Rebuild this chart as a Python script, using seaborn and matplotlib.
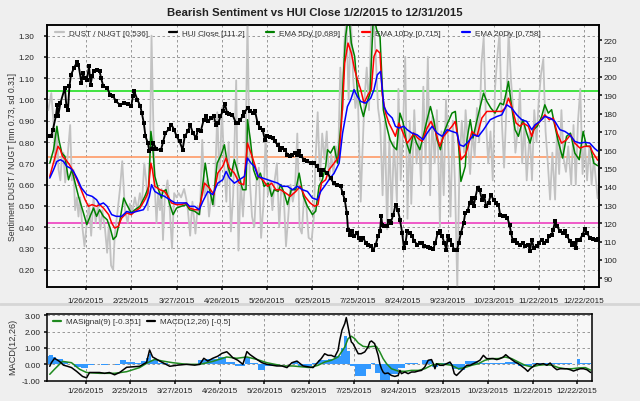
import numpy as np
import pandas as pd
import matplotlib
matplotlib.use("Agg")
import matplotlib.pyplot as plt
from matplotlib.lines import Line2D
import seaborn as sns

# ---------------- data (day of year 2015, value) ----------------
ratio_mean, ratio_sd = 0.73, 0.31

dust_nugt = [(1,0.95),(3,1.03),(4.5,0.89),(5.6,0.70),(6.7,0.87),(7.8,0.67),(9,0.62),(10,0.73),(11,0.75),(12.2,0.61),(13.3,0.69),(15.5,0.88),(16.6,0.62),(17.7,0.67),(18.8,0.48),(20,0.54),(21,0.45),(22,0.54),(23.6,0.40),(25,0.31),(26.5,0.42),(28,0.51),(29.4,0.36),(31,0.54),(32.4,0.42),(34,0.51),(35.5,0.39),(36.8,0.48),(38.6,0.39),(40,0.28),(41.2,0.42),(42.6,0.22),(44,0.20),(45,0.36),(47,0.48),(48.5,0.58),(50,0.71),(51.8,0.48),(53.6,0.42),(55,0.51),(56.6,0.47),(58.4,0.54),(60,0.48),(61.7,0.56),(63,0.50),(64.6,0.70),(66,0.61),(67,0.48),(68.3,0.73),(69.4,1.30),(70.5,0.92),(71.6,0.58),(72.7,0.42),(73.8,0.56),(75,0.48),(76,0.58),(77,0.34),(78.2,0.54),(80,0.62),(81.5,0.48),(83,0.30),(84.4,0.56),(86,0.54),(87.4,0.56),(89,0.54),(91,0.58),(92.5,0.53),
 (93.5,0.48),(95,0.36),(96.5,0.52),(98.5,0.37),(100,0.50),(101.5,0.46),(103,0.81),(104.5,0.55),(106,0.62),(107.5,0.45),(109,0.55),(111,0.50),(113,0.94),(114.5,0.60),(116,0.96),(117.5,0.70),(119,0.52),(120.5,0.80),(122,0.38),(123.5,0.55),(125.5,1.09),(127,0.29),(128.5,0.62),(130,0.45),(131.5,0.65),(133,1.38),(134.5,0.62),(136,0.45),(137.5,0.40),(139,0.62),(140.5,0.68),(142,0.35),(143.5,0.50),(145,0.83),(146.5,0.55),(148,0.62),(149.5,0.48),(151,0.62),(152.5,0.70),(154,0.40),(155.5,0.60),(157,0.55),(158.5,0.31),(160,0.45),(161.5,0.60),(163,0.52),(164.5,0.58),(166,0.84),(167.5,0.40),(169,0.37),(170.5,0.55),(172,0.50),(173.5,0.35),(175.5,0.34),(177,0.45),(178,0.70),(179.5,0.94),(181,0.62),(182.5,0.84),
 (184,0.72),(185.5,0.85),(187,0.62),(188.5,0.74),(190,0.65),(191.5,0.78),(193,0.70),(194.5,1.15),(196,0.95),(197,1.25),(198.5,1.38),(200,1.00),(201.5,1.38),(203,1.10),(204.5,0.96),(206,1.05),(208,0.52),(209,0.72),(210.5,1.00),(212,1.15),(213.5,0.95),(215,1.38),(216.5,1.38),(218,1.20),(219.5,0.96),(221,0.88),(222.5,0.55),(224,0.90),(225.5,0.39),(227,0.82),(228.5,0.45),(230,0.80),(232,0.52),(233,1.05),(234.5,0.62),(236,0.85),(237.5,1.20),(239,0.44),(240.5,0.90),(241.5,0.51),(243.5,0.95),(245,0.70),(246.5,0.82),(248,0.60),(249.5,1.06),(251,0.70),(252.5,1.20),(254,0.55),(255.5,0.92),(257,0.70),(258.5,0.95),(259.6,0.68),(260.5,0.40),(261.5,0.85),(263,0.55),(264.5,1.00),(266,0.80),(267.5,0.45),(269,0.90),(270.5,0.60),(272,0.12),(273.5,0.70),(275,0.90),
 (276.5,0.75),(277.5,0.95),(279,0.80),(280.5,0.65),(282,0.85),(283.5,0.73),(285,0.96),(286.5,0.80),(288,1.17),(289.5,1.29),(291,0.90),(292.5,0.70),(294,0.85),(295.5,0.62),(297,1.05),(298.5,1.20),(300,1.31),(301.5,0.90),(303,0.68),(304.5,0.95),(306,1.32),(307.5,1.10),(309,0.95),(310.5,0.75),(312,0.85),(313.5,1.05),(315,0.70),(316.5,0.88),(318,0.62),(320,0.85),(321.5,0.62),(323,0.95),(324.5,0.80),(326,1.00),(327.5,1.12),(329,1.19),(330.5,0.85),(332,0.70),(333.5,0.53),(335,0.75),(336.8,0.53),(338,0.85),(339.5,0.65),(341,0.95),(342.5,0.72),(344,0.66),(345.5,0.78),(347.5,0.60),(349,0.88),(350.5,0.60),(352,0.90),(353.5,1.05),(355,0.65),(356.5,0.80),(358,0.62),(359.5,0.78),(361,0.60),(362.5,0.72),(365,0.536)]

hui_close = [(2,168),(3,168),(4,171),(6,178.5),(7,184.8),(7.5,178.5),(9,185.7),(12,194),(13,184),(14,181.7),(15,194.8),(16,201),(18,204.9),(20,208),(21,206.7),(23,196.7),(24,202),(25,199.4),(26.5,198.5),(28,205.8),(29,195.8),(30,200.3),(31,203),(33,204),(35,203),(36,199.4),(37.5,194.8),(40,194),(42,190.3),(44,189.4),(46,186.6),(48.5,184.8),(51,185.7),(54,185.2),(56,183.9),(57,189.4),(58,192.1),(60,187.6),(62,184),(63,180.3),(64.3,174.8),(65.4,167.5),(67,163.9),(68,159.3),(69.4,160.6),(70.5,163.9),(72.7,160.6),(75.6,159.9),(77,164.3),(78.6,169.4),(81,171.5),(82.6,173.9),(84.4,171.2),(86,167.5),(88,164.8),(90,160.2),(91.4,167.5),
 (93.5,170.3),(95,173.9),(96.8,169.4),(99,166.6),(100,171.2),(102,170.3),(104,176.6),(105.6,178.5),(107,175.7),(109,177.6),(110.7,178.5),(112,173.9),(113.7,174.8),(115,178.5),(116.6,181.2),(118,185.4),(119.5,180.3),(121,179.9),(123,179.4),(125.4,174.8),(127,174.8),(128,176.6),(130,178.5),(131,180.6),(133,183),(134.9,181.2),(136.4,180.3),(138,181.2),(139.7,174.8),(141.5,172.1),(143,171.2),(144.5,165.7),(146,167.5),(148,167.1),(149.6,166.6),(151,164.8),(152.9,163),(154.7,160.2),(156,161.2),(157.7,160.2),(159.5,157.5),(161,156.6),(162.8,157.5),(164.3,158.4),(166,157.5),(167,159.3),(168.3,156.9),(170.5,154.8),(172.7,153.9),(174.9,153),(177,153),(178.9,151.1),(180.4,149.3),(181.5,146.6),(183.3,149.3),
 (186,147.5),(188,144.8),(190,142),(192,141.1),(194.8,140.2),(196,136.6),(197.4,133),(198.8,125.7),(199.6,116.5),(201,113.8),(202.5,115.6),(203.6,112.9),(205.4,114.7),(207,112),(208.4,111.1),(209.8,112),(211.3,109.3),(212.8,108.4),(214.6,107.4),(216.4,105.6),(218,108.4),(219.4,112.9),(220.8,115.6),(221.6,123.8),(222.3,119.3),(223.4,118.4),(225.2,118.7),(226.7,121.1),(227.8,120.2),(229.6,124.7),(231.1,130.2),(232.6,127.5),(234,122),(235.5,114.7),(236.6,106.5),(237.7,109.3),(238.8,115.6),(240.6,114.7),(242,112.9),(243.6,110.2),(245.4,108.4),(247,109.3),(248.7,109.3),(250.2,107.4),(252.4,107.1),(254,106.5),(256,106),(257.5,109.3),(259,114.7),(260.4,115.6),(262,112.9),(263.4,109.3),(264.8,105.6),(265.6,112.9),(267,111.1),(268.5,108.4),(270,105.6),(271.8,105.6),(273,109.3),(274.4,114.7),
 (276.2,120.2),(277.3,125.7),(278.8,126.6),(280.2,131.1),(281.7,133.9),(282.8,129.3),(283.9,133.9),(285.4,139.3),(286.8,138.4),(288.3,132.9),(289.8,134.8),(291.2,129.3),(292.7,131.1),(294.2,135.7),(296,132.9),(297.8,131.1),(299.3,130.2),(300.4,124.7),(302.2,123.8),(303.7,123.8),(305.2,122.9),(306.6,119.3),(307.7,114.7),(308.8,110.2),(310.3,111.1),(311.8,109.3),(313.6,108.4),(315.4,109.3),(316.9,107.4),(319.1,108.4),(320.2,104.7),(321.3,111.1),(322.8,106.5),(324.6,107.4),(326.4,109.3),(327.9,111.1),(329.4,109.3),(331.2,110.2),(333,112.9),(334.5,113.8),(335.6,116.5),(336.7,121.1),(338.2,118.4),(340,115.6),(341.8,114.7),(343.3,115.6),(344.8,112.9),(346.6,110.2),(347.7,108.4),(349.2,109.3),(350.6,106.5),(351.4,111.1),(353.2,111.1),(355,113.8),(356.5,116.9),(358,114.7),(359.8,112),(361.6,111.4),(363.8,111.1),(365,111.2)]

ema_5 = [(2,0.701),(4.5,0.764),(6.7,0.874),(8,0.811),(10,0.748),(12,0.733),(14.4,0.623),(16.6,0.670),(18.8,0.608),(21,0.545),(24.3,0.467),(26.5,0.412),(28.7,0.451),(31,0.490),(33,0.451),(35,0.482),(37.5,0.451),(40,0.435),(42,0.396),(44,0.342),(46,0.357),(48.5,0.435),(51,0.537),(53,0.506),(56,0.467),(58.4,0.482),(61.7,0.498),(65,0.545),(67.6,0.592),(69,0.850),(70,0.795),(71.6,0.639),(74,0.576),(76,0.537),(77,0.568),(79,0.576),(81.5,0.506),(83.7,0.459),(86,0.490),(89,0.498),(92.5,0.506),
 (94.6,0.482),(98,0.475),(101,0.459),(105,0.701),(107,0.607),(110,0.506),(112.9,0.701),(115.5,0.740),(117.7,0.787),(120,0.686),(122,0.639),(124.3,0.717),(127,0.647),(129.8,0.576),(132,0.576),(133,0.905),(134.9,0.811),(137,0.670),(139.3,0.623),(141.5,0.654),(144,0.592),(146.7,0.607),(149,0.545),(150.7,0.576),(153.3,0.568),(155,0.600),(157.3,0.560),(159.5,0.506),(162,0.576),(165,0.576),(167.2,0.654),(170,0.545),(172.7,0.498),(176,0.459),(178.2,0.475),(180.4,0.592),(182.6,0.623),(184.8,0.686),
 (186,0.764),(188,0.748),(190.4,0.780),(192.6,0.701),(195,0.889),(196.6,1.124),(198,1.296),(200,1.40),(201.8,1.265),(204,1.202),(205.8,1.046),(208,0.967),(209.8,0.920),(212,0.983),(214.2,1.030),(216.4,1.40),(218.6,1.327),(220.8,1.296),(223,0.952),(225.2,0.874),(227.4,0.811),(229.6,0.780),(231.8,0.764),(234,0.936),(236.2,0.889),(238.4,0.795),(240.6,0.748),(242.8,0.842),(245,0.795),(247.2,0.764),(249.4,0.827),(252,0.905),(254.2,0.967),(256.4,0.905),(258.6,0.811),(260.8,0.764),(263,0.842),(265.6,0.889),(268.5,0.936),(270.7,0.944),(272.9,0.780),(274.4,0.615),(277.3,0.686),
 (278.4,0.811),(280.6,0.905),(282.4,0.819),(284.6,0.889),(287.2,0.967),(289.4,1.030),(291.6,0.991),(294.2,0.960),(297,0.936),(300.4,0.983),(302.6,0.975),(304.8,1.046),(305.9,1.085),(308,0.967),(310.3,0.858),(312.5,0.827),(315.4,0.905),(318,0.842),(320.2,0.795),(322.4,0.858),(325,0.874),(327.9,0.920),(330,0.975),(332.3,0.936),(334.5,0.952),(336.7,0.874),(338.9,0.803),(341.8,0.725),(344.4,0.827),(347,0.842),(349.9,0.748),(352.8,0.717),(355.4,0.850),(357.6,0.780),(360.2,0.780),(362.4,0.701),(365,0.689)]

ema_10 = [(2,0.639),(3.8,0.686),(5.6,0.733),(7.4,0.780),(9,0.764),(10.4,0.733),(12.6,0.717),(15,0.694),(17,0.670),(20,0.623),(22.8,0.576),(25.4,0.529),(27.6,0.498),(30,0.506),(33,0.498),(35,0.506),(37.5,0.490),(41,0.459),(43,0.420),(45,0.396),(47.4,0.404),(49.6,0.443),(53,0.467),(56,0.459),(58.4,0.474),(61.7,0.490),(65,0.529),(67,0.560),(69,0.701),(70,0.670),(71.6,0.592),(75,0.576),(78,0.568),(80.4,0.545),(82.6,0.514),(86,0.506),(89,0.506),(92.5,0.514),
 (94.6,0.490),(98,0.482),(101,0.482),(104.5,0.607),(107.8,0.584),(110.7,0.553),(113.3,0.654),(116.6,0.686),(118.8,0.725),(121,0.678),(124.3,0.654),(127.6,0.607),(130.5,0.600),(133,0.795),(135.3,0.748),(137.5,0.701),(140,0.639),(143,0.623),(146.3,0.592),(149,0.607),(151.8,0.576),(155,0.576),(158.4,0.560),(161.3,0.545),(165,0.568),(167.9,0.592),(171,0.545),(174.5,0.514),(177.5,0.498),(179.7,0.506),(182,0.607),(184.8,0.623),
 (187,0.670),(190.4,0.701),(193.7,0.733),(196,0.967),(197.4,1.171),(199.6,1.265),(201.8,1.218),(204,1.140),(206.2,1.085),(208,1.046),(210.2,0.983),(212.8,1.022),(215,1.046),(216.8,1.202),(218.6,1.233),(220.8,1.218),(222.3,1.022),(224.5,0.936),(226.7,0.889),(228.9,0.858),(231,0.827),(233.3,0.889),(236.6,0.834),(238.8,0.795),(241.4,0.819),(243.2,0.842),(245.8,0.819),(248.7,0.803),(252,0.866),(254.6,0.897),(257.5,0.850),(260.4,0.780),(263,0.827),(265.6,0.850),(268.5,0.874),(270.7,0.897),(272.9,0.795),(274.4,0.717),(277.3,0.740),
 (278.8,0.772),(281.7,0.850),(285,0.827),(288.3,0.913),(291.6,0.944),(294.9,0.944),(298.2,0.944),(301.5,0.944),(303.7,0.960),(305.9,1.006),(308,0.967),(311,0.889),(313.6,0.874),(315.8,0.889),(319.1,0.874),(321.3,0.827),(323.5,0.874),(326.8,0.897),(330,0.928),(333,0.905),(335.6,0.913),(338.2,0.842),(341.1,0.795),(344.4,0.811),(347,0.834),(349.9,0.795),(353.2,0.772),(356.5,0.780),(359.8,0.780),(362,0.748),(365,0.715)]

ema_20 = [(2,0.631),(4.5,0.670),(6.7,0.709),(9,0.717),(11,0.709),(13.3,0.686),(15.5,0.678),(17.7,0.662),(20,0.631),(23,0.584),(26.5,0.553),(30,0.545),(33,0.529),(35,0.506),(37.5,0.514),(40,0.498),(43,0.459),(46,0.451),(49.6,0.451),(53,0.474),(56,0.467),(59.5,0.474),(64,0.482),(66,0.506),(68,0.545),(69.4,0.600),(71.6,0.568),(75,0.553),(78,0.545),(81.5,0.529),(85,0.514),(89,0.514),(92.5,0.514),
 (94.6,0.498),(98,0.498),(101,0.482),(103.4,0.521),(106.7,0.568),(110,0.553),(113.3,0.607),(116.6,0.623),(118.8,0.662),(121,0.631),(124.3,0.607),(127.6,0.623),(131,0.639),(133,0.725),(135.3,0.701),(137.5,0.686),(140,0.639),(143,0.631),(146.3,0.623),(149.6,0.615),(153,0.607),(156,0.592),(159.5,0.592),(162.8,0.576),(166,0.592),(169.4,0.576),(172.7,0.568),(176,0.537),(179.3,0.529),(181.5,0.568),(184.8,0.600),
 (187,0.623),(190.4,0.654),(193.7,0.701),(196,0.842),(199.2,0.967),(201.4,0.999),(203.6,1.046),(205.8,1.014),(208,0.991),(211.3,0.983),(214.6,1.006),(216.8,1.046),(219,1.116),(221.2,1.132),(223.4,0.967),(225.6,0.936),(228.9,0.913),(231,0.874),(233.3,0.866),(236.6,0.874),(238.8,0.858),(242,0.842),(245.4,0.834),(249.4,0.811),(252,0.842),(255.3,0.874),(258.6,0.842),(262,0.827),(265.2,0.858),(268.5,0.850),(271.8,0.842),(273.6,0.787),(276.2,0.780),
 (279.5,0.803),(282.8,0.834),(286,0.827),(289.4,0.858),(293.8,0.905),(298.2,0.920),(301.5,0.928),(304.8,0.975),(308,0.960),(311.4,0.928),(314.7,0.905),(318,0.897),(321.3,0.858),(323.5,0.881),(326.8,0.897),(330,0.920),(333.4,0.913),(336.7,0.897),(340,0.858),(343.3,0.850),(346.6,0.834),(349.9,0.803),(353.2,0.795),(356.5,0.799),(359.8,0.795),(363,0.770),(365,0.758)]

macd_line = [(2,-0.12),(3.1,0.1),(5.2,0.37),(8.5,0.18),(11.2,-0.05),(13.9,-0.12),(16.6,-0.2),(20,-0.43),(24,-0.74),(26.7,-0.83),(28.7,-0.5),(35.4,-0.5),(38.8,-0.55),(42,-0.5),(45.5,-0.64),(48.9,-0.5),(53.6,-0.18),(58.3,-0.15),(62.3,-0.12),(65.7,0.05),(67,0.12),(69,0.88),(71,0.45),(73,0.35),(75.8,0.2),(79,0.05),(82.5,-0.12),(87.9,-0.05),(93.9,0.0),(99.3,-0.05),(102.7,0.0),(105.4,0.37),(108,0.2),(111.4,0.37),(114.8,0.5),(117.5,0.67),(120.8,0.77),(122.8,0.6),(124.9,0.4),(128.2,0.25),(131.6,0.0),(134.3,0.78),(136.3,0.6),(141,0.3),(144.4,0.1),(147.7,0.0),(151,-0.05),(154.4,-0.1),(157.8,-0.1),(161.2,-0.2),(164.5,0.1),(167.9,0.2),(172,-0.1),(175.3,-0.15),(178.7,-0.2),(182,0.14),(184.2,0.35),(186.5,0.65),(188.7,0.55),(191,0.55),(193.2,0.45),(195.5,0.86),(196.6,1.47),(198.1,2.09),(200,2.50),(201,2.86),(202.2,2.29),(203.3,1.78),(204.4,1.37),(205.5,1.27),(206.7,1.06),(207.8,0.86),(209,0.65),(211,0.65),(213.4,0.76),(215.6,1.06),(216.8,1.37),(217.9,1.43),(220,1.27),(221,0.96),(222.4,0.55),(223.5,0.04),(224.6,-0.27),(225.7,-0.47),(226.8,-0.57),(229,-0.53),(231.3,-0.68),(233.6,-0.74),(235.8,-0.68),(237,-0.37),(238,-0.57),(240.3,-0.47),(242.5,-0.57),(244.8,-0.47),(247,-0.47),(249.3,-0.41),(251.5,-0.37),(253.7,-0.16),(256,0.25),(258.2,0.29),(259.4,0.04),(260.5,-0.27),(261.6,0.04),(263.8,-0.06),(266,-0.06),(268.3,0.04),(270.6,0.14),(272,-0.06),(273.5,-0.57),(275,-0.68),(277.3,-0.47),(279.5,-0.27),(281.8,-0.06),(284,-0.06),(286.3,0.04),(288.5,0.14),(290.7,0.25),(293,0.55),(295.2,0.35),(297.5,0.35),(299.7,0.35),(302,0.29),(304.2,0.35),(306.4,0.45),(308,0.59),(309.8,0.45),(312,0.29),(314.3,0.14),(316.5,0.04),(318.8,-0.12),(321,-0.27),(322.8,-0.43),(324.4,-0.27),(326.6,-0.12),(328.9,0.04),(331,0.0),(333.3,0.04),(335.6,-0.06),(337.8,0.08),(340,-0.16),(342.3,-0.33),(344.5,-0.27),(346.8,-0.27),(349,-0.27),(351.3,-0.33),(353.5,-0.41),(355.8,-0.33),(358,-0.27),(360.2,-0.27),(362.5,-0.33),(365,-0.5)]

ma_signal = [(2,-0.61),(5.2,-0.3),(10.5,0.18),(16.6,0.1),(22,-0.3),(26.7,-0.5),(35.4,-0.55),(45.5,-0.55),(53.6,-0.45),(62.3,-0.2),(67.7,0.1),(72.4,0.3),(77.8,0.2),(84.5,0.1),(93.9,0.0),(102.7,0.0),(111.4,0.18),(120.8,0.45),(127.5,0.37),(134.3,0.45),(141,0.3),(147.7,0.1),(158.5,-0.1),(165.2,-0.1),(176.6,-0.2),(182,-0.06),(186.5,0.14),(191,0.25),(195.5,0.45),(200,1.06),(202.2,1.57),(204.4,1.72),(206.7,1.57),(209,1.31),(212.3,1.1),(215.6,1.06),(219,1.1),(221.2,1.1),(223.5,0.76),(225.7,0.35),(228,0.04),(231.3,-0.27),(235.8,-0.41),(240.3,-0.43),(244.8,-0.37),(249.3,-0.37),(253.7,-0.27),(258.2,-0.06),(262.7,0.04),(267.2,0.0),(271.7,-0.06),(276.2,-0.27),(280.6,-0.2),(285.1,-0.06),(289.6,0.04),(294.1,0.25),(298.6,0.35),(303,0.35),(307.5,0.45),(312,0.35),(316.5,0.14),(321,-0.06),(325.5,-0.16),(330,-0.06),(334.5,-0.02),(339,-0.06),(343.4,-0.2),(347.9,-0.27),(352.4,-0.27),(356.9,-0.22),(361.4,-0.2),(365,-0.351)]

macd_hist = [(1,0.5),(1.8,0.6),(4,0.45),(6.3,0.3),(10.8,0.15),(14.1,0.05),(18.6,-0.15),(23,-0.25),(27.6,-0.05),(32,0.02),(36.5,-0.03),(41,0.02),(45.5,-0.03),(48.9,0.25),(53.4,0.15),(59,0.1),(63.5,0.2),(66.8,0.4),(68.4,0.65),(70.2,0.25),(74.6,0.1),(81.4,0.05),(88,0.02),(94.8,-0.03),(101.6,0.25),(106,0.35),(115,0.45),(120.6,0.15),(126.2,-0.1),(132.9,0.45),(136.3,0.1),(141.9,-0.35),(146.4,-0.1),(155.4,0.03),(164.3,0.15),(168.8,-0.1),(177.8,0.1),(182,0.25),(188.7,0.35),(193.2,0.5),(197.7,1.0),(199.5,1.75),(201.7,0.8),(203.3,-0.1),(206.7,-0.7),(214.5,-0.3),(217.9,0.1),(220.6,-0.5),(223.5,-0.98),(230.2,-0.6),(235.8,-0.2),(240.3,0.1),(249.3,0.0),(251.5,0.25),(258.2,-0.15),(262.7,0.1),(271.7,-0.3),(276.2,-0.35),(280.6,0.2),(289.6,0.1),(298.6,0.08),(307.5,0.15),(316.5,-0.1),(325.5,0.1),(339,0.08),(352.4,0.05),(355.8,0.3),(358,0.08),(365,0.05)]

tick_dates = ["2015-01-26","2015-02-25","2015-03-27","2015-04-26","2015-05-26","2015-06-25",
              "2015-07-25","2015-08-24","2015-09-23","2015-10-23","2015-11-22","2015-12-22"]
tick_labels = ["1/26/2015","2/25/2015","3/27/2015","4/26/2015","5/26/2015","6/25/2015",
               "7/25/2015","8/24/2015","9/23/2015","10/23/2015","11/22/2015","12/22/2015"]
left_ticks = [0.20,0.30,0.40,0.50,0.60,0.70,0.80,0.90,1.00,1.10,1.20,1.30]
right_ticks = [90,100,110,120,130,140,150,160,170,180,190,200,210,220]
macd_ticks = [-1.0,0.0,1.0,2.0,3.0]

# ---------------- helpers ----------------
BASE = pd.Timestamp("2014-12-31")
def unzip(pairs):
    d, v = zip(*pairs)
    return BASE + pd.to_timedelta(np.array(d, float), unit="D"), np.array(v, float)

sns.set_theme(style="white")
plt.rcParams["font.family"] = ["Liberation Sans", "DejaVu Sans"]

W, H = 640, 402
fig = plt.figure(figsize=(W/100, H/100), dpi=100, facecolor="#efefef")
ax = fig.add_axes([47/W, 1-288/H, 552/W, 262/H], facecolor="#f7f7f7")
ax2 = ax.twinx()
axm = fig.add_axes([47/W, 1-382/H, 545/W, 67/H], facecolor="#f7f7f7")

xlim = (BASE + pd.Timedelta(days=0.15), BASE + pd.Timedelta(days=365.9))
grid_kw = dict(color="#8a8a8a", lw=0.6, ls=(0, (3, 3)))
TS = 5.9

# --- main panel ---
ax.axhline(ratio_mean + ratio_sd, color="#22e022", lw=1.2, zorder=2)
ax.axhline(ratio_mean, color="#ff9a66", lw=1.2, zorder=2)
ax.axhline(ratio_mean - ratio_sd, color="#ee3fc0", lw=1.2, zorder=2)

x, y = unzip(dust_nugt)
sns.lineplot(x=x, y=y, ax=ax, color="#c2c2c2", lw=1.3, estimator=None, sort=False, zorder=3)
for data, col in [(ema_5, "#008000"), (ema_10, "#ff0000"), (ema_20, "#0000ff")]:
    x, y = unzip(data)
    sns.lineplot(x=x, y=y, ax=ax, color=col, lw=1.1, estimator=None, sort=False, zorder=4)

x, y = unzip(hui_close)
sns.lineplot(x=x, y=y, ax=ax2, color="black", lw=1.35, marker="s", markersize=2.3,
             markeredgewidth=0, estimator=None, sort=False, zorder=5)

ax.set_xlim(*xlim)
ax.set_ylim(0.119, 1.35)
ax2.set_ylim(85.2, 228.4)
ax.set_yticks(left_ticks)
ax.set_yticklabels([f"{v:.2f}" for v in left_ticks])
ax2.set_yticks(right_ticks)
ax2.set_yticklabels([str(v) for v in right_ticks])
tds = pd.to_datetime(tick_dates)
ax.set_xticks(tds)
ax.set_xticklabels(tick_labels)
ax.grid(True, **grid_kw)
ax.set_axisbelow(True)
ax2.grid(False)
ax.set_xlabel(""); ax.set_ylabel(""); ax2.set_ylabel("")
ax.tick_params(axis="y", labelsize=TS, length=2, pad=7, colors="#222222", left=True)
ax.tick_params(axis="x", labelsize=TS, length=2, pad=5, colors="#222222", bottom=True)
ax2.tick_params(axis="y", labelsize=TS, length=2, pad=1.2, colors="#222222", right=True)
for a in (ax, ax2):
    for s in a.spines.values():
        s.set_color("black"); s.set_linewidth(1.1)

handles = [Line2D([], [], color="#c2c2c2", lw=1.6),
           Line2D([], [], color="black", lw=1.6),
           Line2D([], [], color="#008000", lw=1.6),
           Line2D([], [], color="#ff0000", lw=1.6),
           Line2D([], [], color="#0000ff", lw=1.6)]
labels = ["DUST / NUGT [0.536]", "HUI Close [111.2]", "EMA 5Dy [0.689]",
          "EMA 10Dy [0.715]", "EMA 20Dy [0.758]"]
leg = ax2.legend(handles, labels, loc="upper left", bbox_to_anchor=(0.005, 1.005), ncol=5,
                 frameon=False, fontsize=TS, handlelength=1.0, handletextpad=0.6,
                 columnspacing=2.6, borderaxespad=0.3)
for t in leg.get_texts():
    t.set_color("#333333")

# --- MACD panel ---
x, y = unzip(macd_hist)
axm.fill_between(x, y, 0, step="post", color="#3399ff", lw=0, zorder=2)
x, y = unzip(ma_signal)
sns.lineplot(x=x, y=y, ax=axm, color="#1f8a1f", lw=1.1, estimator=None, sort=False, zorder=3)
x, y = unzip(macd_line)
sns.lineplot(x=x, y=y, ax=axm, color="black", lw=1.1, estimator=None, sort=False, zorder=4)
axm.set_xlim(*xlim)
axm.set_ylim(-1.02, 3.08)
axm.set_yticks(macd_ticks)
axm.set_yticklabels([f"{v:.2f}" for v in macd_ticks])
axm.set_xticks(tds)
axm.set_xticklabels(tick_labels)
axm.grid(True, **grid_kw)
axm.set_axisbelow(True)
axm.set_xlabel(""); axm.set_ylabel("")
axm.tick_params(axis="both", labelsize=TS, length=2, pad=2.5, colors="#222222", left=True, bottom=True)
for s in axm.spines.values():
    s.set_color("black"); s.set_linewidth(1.1)
mh = [Line2D([], [], color="#1f8a1f", lw=1.6), Line2D([], [], color="black", lw=1.6)]
legm = axm.legend(mh, ["MASignal(9) [-0.351]", "MACD(12,26) [-0.5]"], loc="upper left",
                  bbox_to_anchor=(0.0, 1.03), ncol=2, frameon=False, fontsize=TS,
                  handlelength=1.0, handletextpad=0.6, columnspacing=0.8, borderaxespad=0.3)
for t in legm.get_texts():
    t.set_color("#333333")

# --- texts ---
fig.text(0.492, 1-13/H, "Bearish Sentiment vs HUI Close 1/2/2015 to 12/31/2015",
         ha="center", va="center", fontsize=8.2, fontweight="bold", color="#222222")
fig.text(13/W, 1-157/H, "Sentiment DUST / NUGT [mn 0.73, sd 0.31]", rotation=90,
         ha="center", va="center", fontsize=6.2, color="#333333")
fig.text(13/W, 1-347/H, "MACD(12,26)", rotation=90, ha="center", va="center",
         fontsize=6.6, color="#333333")
fig.add_artist(Line2D([0, 1], [1-305/H]*2, color="#d6d6d6", lw=2, transform=fig.transFigure))

fig.savefig("out.png", dpi=100, facecolor=fig.get_facecolor())
